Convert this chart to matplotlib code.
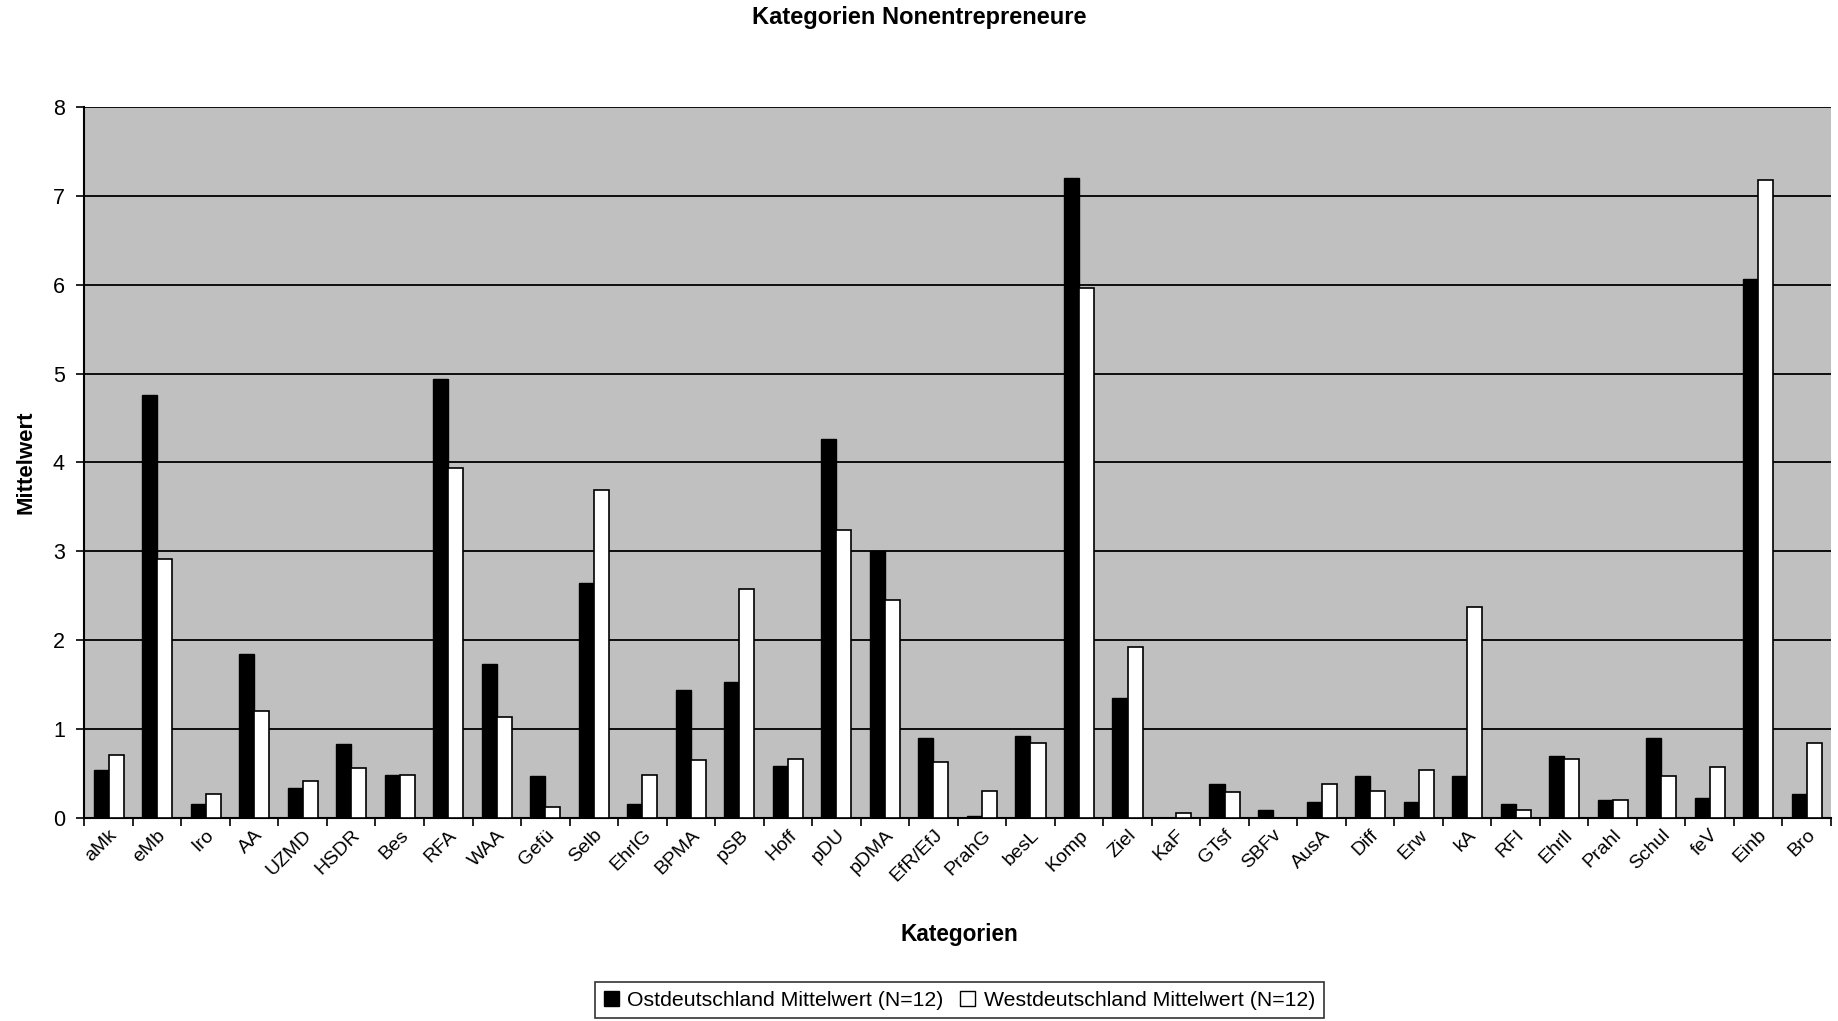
#!/usr/bin/env python3

import matplotlib
matplotlib.use('Agg')
import matplotlib.pyplot as plt
from matplotlib.patches import Patch
import numpy as np

KATEGORIEN = [
    'aMk', 'eMb', 'Iro', 'AA', 'UZMD', 'HSDR', 'Bes', 'RFA', 'WAA', 'Gefü',
    'Selb', 'EhrlG', 'BPMA', 'pSB', 'Hoff', 'pDU', 'pDMA', 'EfR/EfJ', 'PrahG',
    'besL', 'Komp', 'Ziel', 'KaF', 'GTsf', 'SBFv', 'AusA', 'Diff', 'Erw', 'kA',
    'RFI', 'Ehrll', 'Prahl', 'Schul', 'feV', 'Einb', 'Bro'
]

OST = [0.54, 4.76, 0.16, 1.85, 0.34, 0.83, 0.49, 4.94, 1.73, 0.47,
       2.64, 0.16, 1.44, 1.53, 0.59, 4.26, 3.01, 0.90, 0.02,
       0.92, 7.20, 1.35, 0.0, 0.38, 0.09, 0.18, 0.47, 0.18, 0.47,
       0.16, 0.70, 0.21, 0.90, 0.23, 6.06, 0.27]

WEST = [0.71, 2.92, 0.27, 1.21, 0.42, 0.56, 0.49, 3.94, 1.14, 0.13,
        3.69, 0.49, 0.65, 2.58, 0.67, 3.24, 2.45, 0.63, 0.31,
        0.85, 5.96, 1.93, 0.06, 0.29, 0.0, 0.38, 0.31, 0.54, 2.38,
        0.09, 0.67, 0.20, 0.47, 0.58, 7.18, 0.85]

LABEL_OST = 'Ostdeutschland Mittelwert (N=12)'
LABEL_WEST = 'Westdeutschland Mittelwert (N=12)'

BAR_W = 0.31

plt.rcParams['font.family'] = ['Liberation Sans', 'DejaVu Sans']

fig = plt.figure(figsize=(18.38, 10.21), dpi=100)
ax = fig.add_axes([0.0459, 0.1986, 0.9503, 0.6969])
ax.set_facecolor('#C0C0C0')

x = np.arange(len(KATEGORIEN))
ax.bar(x - BAR_W / 2, OST, BAR_W, color='black', edgecolor='black', lw=1, zorder=3)
ax.bar(x + BAR_W / 2, WEST, BAR_W, color='white', edgecolor='black', lw=1.2, zorder=3)

ax.set_ylim(0, 8)
ax.set_xlim(-0.5, len(KATEGORIEN) - 0.5)
ax.set_yticks(range(0, 9))
ax.yaxis.grid(True, color='black', lw=1.3, zorder=1)
ax.set_axisbelow(True)

# tick marks on the category boundaries, labels in the middle
ax.set_xticks(np.arange(len(KATEGORIEN) + 1) - 0.5)
ax.set_xticklabels([])
ax.set_xticks(x, minor=True)
ax.set_xticklabels(KATEGORIEN, minor=True, rotation=45, ha='right', va='top',
                   rotation_mode='anchor', fontsize=14)
ax.tick_params(axis='x', which='minor', length=0, pad=6)
ax.tick_params(axis='x', which='major', length=6, width=1.2, direction='out')
ax.tick_params(axis='y', length=6, width=1.2, labelsize=15.5, pad=8)

for side in ['top', 'right']:
    ax.spines[side].set_visible(False)
for side in ['left', 'bottom']:
    ax.spines[side].set_color('black')
    ax.spines[side].set_linewidth(1.5)

fig.text(0.5, 0.983, 'Kategorien Nonentrepreneure', ha='center', va='center',
         fontsize=17, fontweight='bold')
fig.text(0.522, 1 - 934 / 1021, 'Kategorien', ha='center', va='center',
         fontsize=16.3, fontweight='bold')
fig.text(26 / 1838, 0.5473, 'Mittelwert', ha='center', va='center',
         rotation=90, fontsize=16, fontweight='bold')

handles = [Patch(facecolor='black', edgecolor='black'),
           Patch(facecolor='white', edgecolor='black')]
leg = fig.legend(handles, [LABEL_OST, LABEL_WEST], loc='center',
                 bbox_to_anchor=(0.522, 0.0205), ncol=2, fontsize=15.3,
                 frameon=True, fancybox=False, shadow=False,
                 handlelength=0.7, handleheight=0.7, handletextpad=0.4,
                 columnspacing=0.8, borderpad=0.4)
leg.get_frame().set_edgecolor('black')
leg.get_frame().set_linewidth(1.2)

fig.savefig('out.png', dpi=100)
